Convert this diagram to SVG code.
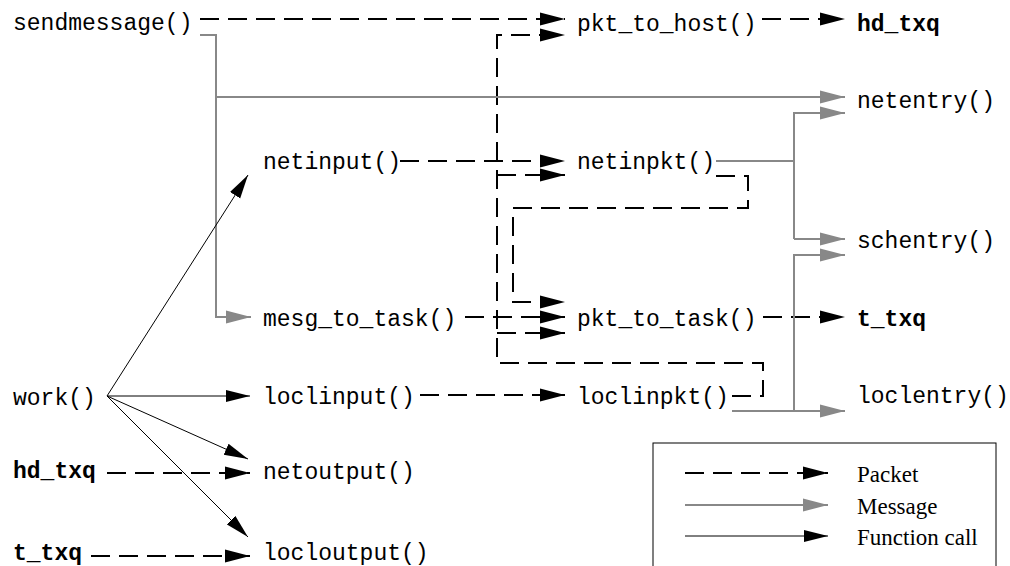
<svg xmlns="http://www.w3.org/2000/svg" width="1010" height="566" viewBox="0 0 1010 566">
<style>
.t{font-family:"Liberation Mono","Courier New",monospace;font-size:23px;fill:#000}
.b{font-weight:bold}
.lg{font-family:"Liberation Serif","Times New Roman",serif;font-size:23px;fill:#000}
.pk{fill:none;stroke:#000;stroke-width:2;stroke-dasharray:19 9;marker-end:url(#ak)}
.ms{fill:none;stroke:#888;stroke-width:2;marker-end:url(#ag)}
.msn{fill:none;stroke:#888;stroke-width:2}
.fc{fill:none;stroke:#000;stroke-width:1;marker-end:url(#af)}
</style>
<defs>
<marker id="ak" markerUnits="userSpaceOnUse" markerWidth="25" markerHeight="14" refX="25" refY="7" orient="auto"><path d="M0,0.5 L25,7 L0,13.5 z" fill="#000"/></marker>
<marker id="ag" markerUnits="userSpaceOnUse" markerWidth="25" markerHeight="14" refX="25" refY="7" orient="auto"><path d="M0,0.5 L25,7 L0,13.5 z" fill="#888"/></marker>
<marker id="af" markerUnits="userSpaceOnUse" markerWidth="24" markerHeight="14" refX="24" refY="7" orient="auto"><path d="M0,1 L24,7 L0,13 z" fill="#000"/></marker>
</defs>
<rect width="1010" height="566" fill="#fff"/>

<g id="connectors">
<path class="pk" d="M200,19 H565"/>
<path class="pk" d="M762,19 H845"/>
<path class="pk" d="M400,161 H565"/>
<path class="pk" d="M732,396 H763 V363 H497 V35 H565"/>
<path class="pk" d="M497,175 H565"/>
<path class="pk" d="M497,333 H565"/>
<path class="pk" d="M716,176 H748 V208 H513 V302 H565"/>
<path class="pk" d="M465,317 H565"/>
<path class="pk" d="M763,317 H845"/>
<path class="pk" d="M420,395 H565"/>
<path class="pk" d="M107,473 H250"/>
<path class="pk" d="M91,556 H250"/>
<path class="ms" d="M200,35 H216 V317 H251"/>
<path class="ms" d="M216,97 H845"/>
<path class="msn" d="M716,161 H794"/>
<path class="ms" d="M794,239 V113 H845"/>
<path class="ms" d="M794,239 H845"/>
<path class="ms" d="M732,411 H845"/>
<path class="ms" d="M794,411 V255 H845"/>
<path class="fc" d="M107,396 L248,175"/>
<path class="fc" d="M107,396 H250"/>
<path class="fc" d="M107,396 L248,459"/>
<path class="fc" d="M107,396 L248,537"/>
</g>

<g id="sendmessage"><text class="t" x="13" y="30">sendmessage()</text></g>
<g id="pkt_to_host"><text class="t" x="577" y="31">pkt_to_host()</text></g>
<g id="hd_txq_out"><text class="t b" x="857" y="31">hd_txq</text></g>
<g id="netentry"><text class="t" x="857" y="108">netentry()</text></g>
<g id="netinput"><text class="t" x="263" y="169">netinput()</text></g>
<g id="netinpkt"><text class="t" x="577" y="169">netinpkt()</text></g>
<g id="schentry"><text class="t" x="857" y="248">schentry()</text></g>
<g id="mesg_to_task"><text class="t" x="263" y="326">mesg_to_task()</text></g>
<g id="pkt_to_task"><text class="t" x="577" y="326">pkt_to_task()</text></g>
<g id="t_txq_out"><text class="t b" x="857" y="326">t_txq</text></g>
<g id="work"><text class="t" x="13" y="405">work()</text></g>
<g id="loclinput"><text class="t" x="263" y="404">loclinput()</text></g>
<g id="loclinpkt"><text class="t" x="577" y="404">loclinpkt()</text></g>
<g id="loclentry"><text class="t" x="857" y="403">loclentry()</text></g>
<g id="hd_txq_in"><text class="t b" x="13" y="478">hd_txq</text></g>
<g id="netoutput"><text class="t" x="263" y="479">netoutput()</text></g>
<g id="t_txq_in"><text class="t b" x="13" y="560">t_txq</text></g>
<g id="locloutput"><text class="t" x="263" y="560">locloutput()</text></g>

<g id="legend">
<rect x="653" y="443" width="343" height="140" fill="none" stroke="#000" stroke-width="1"/>
<path class="pk" d="M685,473 H828"/>
<path class="ms" d="M685,505 H828"/>
<path class="fc" d="M685,536 H828"/>
<text class="lg" x="857" y="482">Packet</text>
<text class="lg" x="857" y="514">Message</text>
<text class="lg" x="857" y="545">Function call</text>
</g>
</svg>
